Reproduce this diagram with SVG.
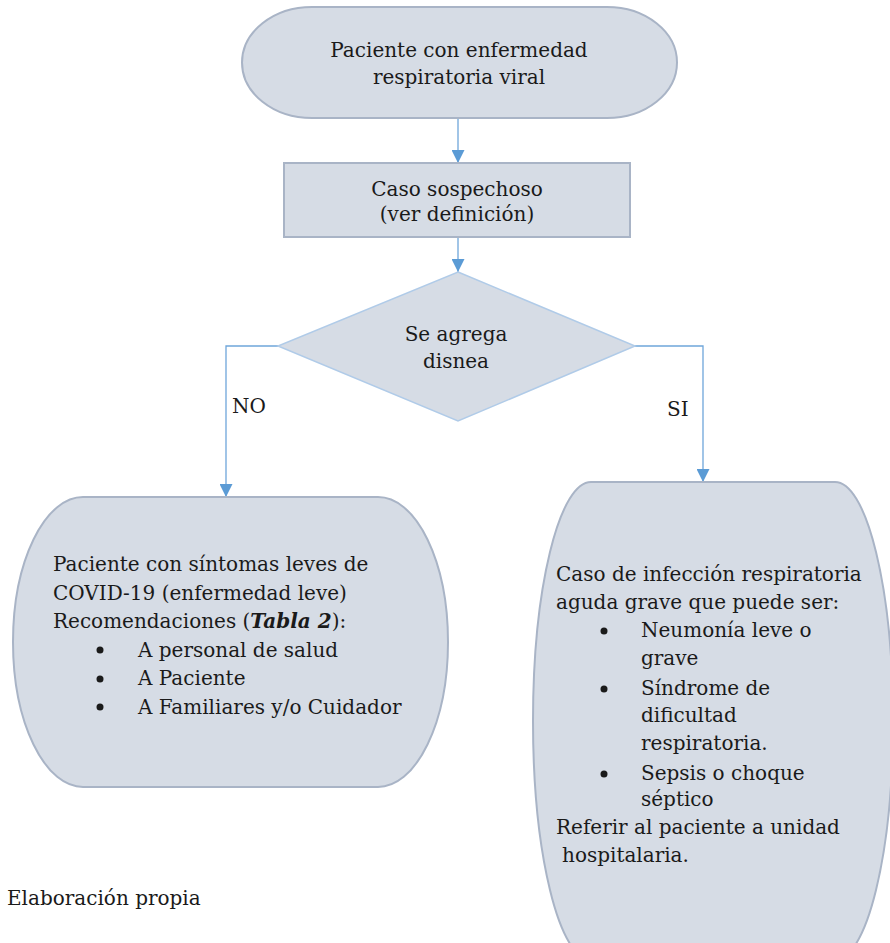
<svg xmlns="http://www.w3.org/2000/svg" width="890" height="943" viewBox="0 0 890 943">
<style>
text{font-family:"DejaVu Serif","Liberation Serif",serif;font-size:20px;fill:#1a1a1a}
.c{text-anchor:middle}
.shape{fill:#d6dce5;stroke:#a9b4c6;stroke-width:2}
.dia{fill:#d6dce5;stroke:#b0cbe8;stroke-width:1.5}
.conn{fill:none;stroke:#6fa6da;stroke-width:1.3}
.b{font-weight:bold;font-style:italic}
</style>
<defs>
<marker id="ah" markerUnits="userSpaceOnUse" markerWidth="13" markerHeight="13" viewBox="0 0 13 13" refX="13" refY="6.5" orient="auto">
<path d="M0,0 L13,6.5 L0,13 z" fill="#5b9bd5"/>
</marker>
</defs>
<g id="connectors">
<path class="conn" d="M458,118 L458,163" marker-end="url(#ah)"/>
<path class="conn" d="M458,237 L458,272" marker-end="url(#ah)"/>
<path class="conn" d="M278,346 L226,346 L226,497" marker-end="url(#ah)"/>
<path class="conn" d="M635,346 L703,346 L703,482" marker-end="url(#ah)"/>
<text x="232" y="413">NO</text>
<text x="667" y="416">SI</text>
</g>
<g id="start">
<path class="shape" d="M312,7 L607,7 A70,55.5 0 0 1 677,62.5 A70,55.5 0 0 1 607,118 L312,118 A70,55.5 0 0 1 242,62.5 A70,55.5 0 0 1 312,7 Z"/>
<text class="c" x="459" y="57">Paciente con enfermedad</text>
<text class="c" x="459" y="84">respiratoria viral</text>
</g>
<g id="sospechoso">
<rect class="shape" x="284" y="163" width="346" height="74"/>
<text class="c" x="457" y="196">Caso sospechoso</text>
<text class="c" x="457" y="221">(ver definición)</text>
</g>
<g id="decision">
<polygon class="dia" points="458,272 635,346 458,421 278,346"/>
<text class="c" x="456" y="341">Se agrega</text>
<text class="c" x="456" y="368">disnea</text>
</g>
<g id="leve">
<path class="shape" d="M83,497 L378,497 A70,145 0 0 1 448,642 A70,145 0 0 1 378,787 L83,787 A70,145 0 0 1 13,642 A70,145 0 0 1 83,497 Z"/>
<text x="53" y="571">Paciente con síntomas leves de</text>
<text x="53" y="600">COVID-19 (enfermedad leve)</text>
<text x="53" y="628">Recomendaciones (<tspan class="b">Tabla 2</tspan>):</text>
<circle cx="100" cy="650" r="3.5" fill="#1a1a1a"/>
<text x="138" y="657">A personal de salud</text>
<circle cx="100" cy="679" r="3.5" fill="#1a1a1a"/>
<text x="138" y="685">A Paciente</text>
<circle cx="100" cy="707" r="3.5" fill="#1a1a1a"/>
<text x="138" y="714">A Familiares y/o Cuidador</text>
</g>
<g id="grave">
<path class="shape" d="M591,482 L835,482 A58,239 0 0 1 893,721 A58,239 0 0 1 835,960 L591,960 A58,239 0 0 1 533,721 A58,239 0 0 1 591,482 Z"/>
<text x="556" y="581">Caso de infección respiratoria</text>
<text x="556" y="609">aguda grave que puede ser:</text>
<circle cx="604" cy="631" r="3.5" fill="#1a1a1a"/>
<text x="641" y="637">Neumonía leve o</text>
<text x="641" y="665">grave</text>
<circle cx="604" cy="689" r="3.5" fill="#1a1a1a"/>
<text x="641" y="695">Síndrome de</text>
<text x="641" y="722">dificultad</text>
<text x="641" y="750">respiratoria.</text>
<circle cx="604" cy="774" r="3.5" fill="#1a1a1a"/>
<text x="641" y="780">Sepsis o choque</text>
<text x="641" y="806">séptico</text>
<text x="556" y="834">Referir al paciente a unidad</text>
<text x="562" y="862">hospitalaria.</text>
</g>
<g id="caption">
<text x="7" y="905">Elaboración propia</text>
</g>
</svg>
